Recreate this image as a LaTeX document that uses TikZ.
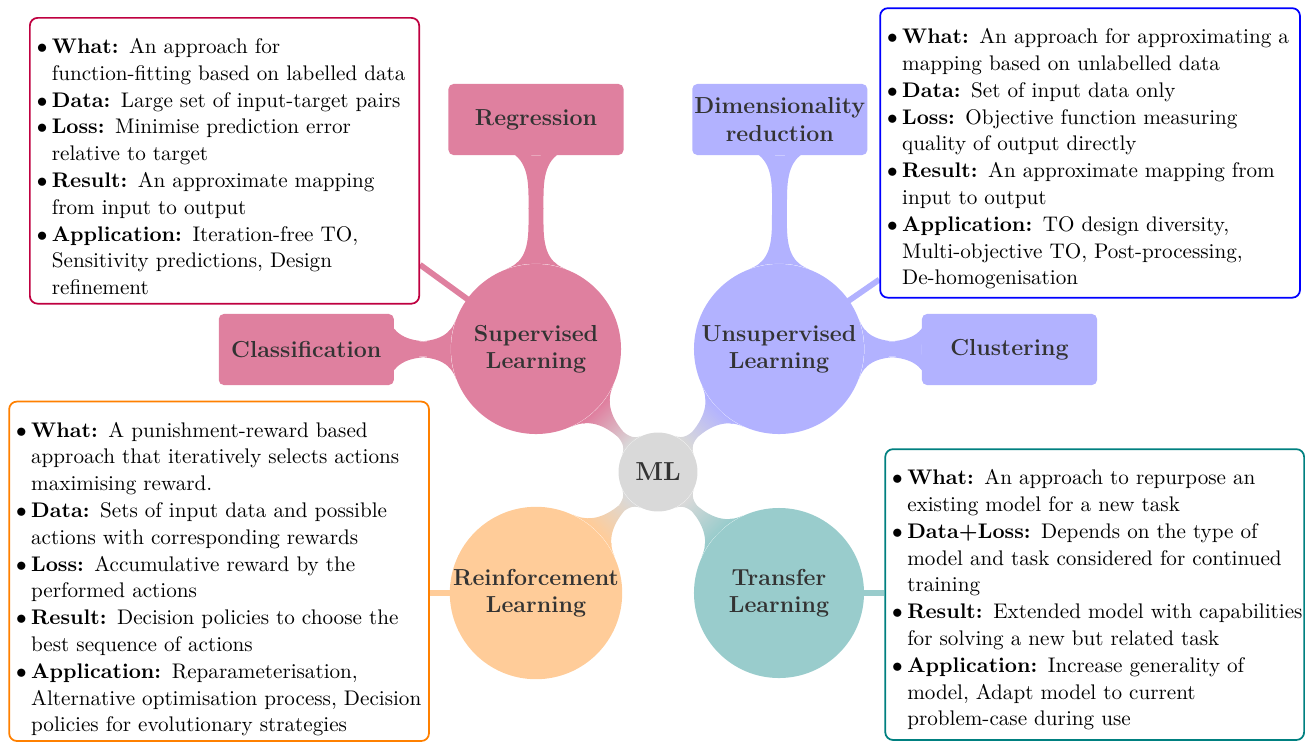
\documentclass[tikz,border=0pt]{standalone}
\usetikzlibrary{mindmap,backgrounds,calc}
\colorlet{mlgray}{gray!30}
\colorlet{pinkc}{purple!50}
\colorlet{lavc}{blue!30}
\colorlet{peachc}{orange!40}
\colorlet{tealc}{teal!40}
\newcommand{\It}[1]{\makebox[7.8pt][l]{$\bullet$}\mbox{#1}}
\newcommand{\Ct}[1]{\hspace*{7.8pt}\mbox{#1}}
\newcommand{\TopS}{\rule{0pt}{18.4pt}}
\newcommand{\BotS}[1]{\rule[-#1]{0pt}{#1}}
\begin{document}
\begin{tikzpicture}[x=0.5181pt,y=-0.5181pt,
  concepttext/.style={text=black!80, font=\fontsize{12}{14.2}\selectfont\bfseries, align=center},
  rootconcept/.style={circle, fill=mlgray, minimum size=40.9pt, inner sep=0pt, concepttext, font=\fontsize{13.5}{15}\selectfont\bfseries},
  lvlone/.style={circle, fill=#1, minimum size=88.1pt, inner sep=0pt, concepttext},
  lvltwo/.style={rectangle, rounded corners=2.6pt, fill=#1, minimum width=90.7pt, minimum height=36.8pt, inner sep=0pt, concepttext},
  infobox/.style={draw=#1, line width=0.9pt, fill=white, rounded corners=4pt, anchor=north west, inner xsep=3.6pt, inner ysep=0pt, align=left, font=\fontsize{10.95}{13.89}\selectfont, text=black},
  tether/.style={line width=3pt, draw=#1}]
\useasboundingbox (0,0) rectangle (1306,741);

% concepts
\node[rootconcept] (ml) at (658,472) {ML};
\node[lvlone=pinkc] (sup) at (536,349) {Supervised\\Learning};
\node[lvlone=lavc] (uns) at (779,349) {Unsupervised\\Learning};
\node[lvlone=peachc] (rl) at (536,593) {Reinforcement\\Learning};
\node[lvlone=tealc] (tl) at (779,593) {Transfer\\Learning};
\node[lvltwo=pinkc] (reg) at (536,119.5) {Regression};
\node[lvltwo=pinkc] (cls) at (306.3,349.5) {Classification};
\node[lvltwo=lavc] (dim) at (779.8,119.5) {Dimensionality\\reduction};
\node[lvltwo=lavc] (clu) at (1009.5,349.5) {Clustering};

% info boxes
\node[infobox=purple, text width=194.5pt] (pbox) at (29,17) {%
\TopS\It{\textbf{What:} An approach for}\\
\Ct{function-fitting based on labelled data}\\
\It{\textbf{Data:} Large set of input-target pairs}\\
\It{\textbf{Loss:} Minimise prediction error}\\
\Ct{relative to target}\\
\It{\textbf{Result:} An approximate mapping}\\
\Ct{from input to output}\\
\It{\textbf{Application:} Iteration-free TO,}\\
\Ct{Sensitivity predictions, Design}\\
\Ct{refinement}\BotS{4.66pt}};

\node[infobox=blue, text width=210.3pt] (bbox) at (879.3,7.3) {%
\TopS\It{\textbf{What:} An approach for approximating a}\\
\Ct{mapping based on unlabelled data}\\
\It{\textbf{Data:} Set of input data only}\\
\It{\textbf{Loss:} Objective function measuring}\\
\Ct{quality of output directly}\\
\It{\textbf{Result:} An approximate mapping from}\\
\Ct{input to output}\\
\It{\textbf{Application:} TO design diversity,}\\
\Ct{Multi-objective TO, Post-processing,}\\
\Ct{De-homogenisation}\BotS{6.58pt}};

\node[infobox=orange, text width=210.3pt] (obox) at (8.3,400.7) {%
\TopS\It{\textbf{What:} A punishment-reward based}\\
\Ct{approach that iteratively selects actions}\\
\Ct{maximising reward.}\\
\It{\textbf{Data:} Sets of input data and possible}\\
\Ct{actions with corresponding rewards}\\
\It{\textbf{Loss:} Accumulative reward by the}\\
\Ct{performed actions}\\
\It{\textbf{Result:} Decision policies to choose the}\\
\Ct{best sequence of actions}\\
\It{\textbf{Application:} Reparameterisation,}\\
\Ct{Alternative optimisation process, Decision}\\
\Ct{policies for evolutionary strategies}\BotS{4.66pt}};

\node[infobox=teal, text width=209.8pt] (tbox) at (884.4,448.3) {%
\TopS\It{\textbf{What:} An approach to repurpose an}\\
\Ct{existing model for a new task}\\
\It{\textbf{Data+Loss:} Depends on the type of}\\
\Ct{model and task considered for continued}\\
\Ct{training}\\
\It{\textbf{Result:} Extended model with capabilities}\\
\Ct{for solving a new but related task}\\
\It{\textbf{Application:} Increase generality of}\\
\Ct{model, Adapt model to current}\\
\Ct{problem-case during use}\BotS{7.25pt}};

\begin{pgfonlayer}{background}
% tethers from concepts to info boxes
\draw[tether=pinkc] (sup.center) -- (pbox.-28.2);
\draw[tether=lavc] (uns.center) -- (bbox.211.8);
\draw[tether=peachc] (rl.center) -- (rl.center -| obox.east);
\draw[tether=tealc] (tl.center) -- (tl.center -| tbox.west);
% connection bars
\path (ml) to[circle connection bar switch color=from (mlgray) to (pinkc)] (sup);
\path (ml) to[circle connection bar switch color=from (mlgray) to (lavc)] (uns);
\path (ml) to[circle connection bar switch color=from (mlgray) to (peachc)] (rl);
\path (ml) to[circle connection bar switch color=from (mlgray) to (tealc)] (tl);
\path (sup) to[circle connection bar switch color=from (pinkc) to (pinkc)] (reg);
\path (sup) to[circle connection bar switch color=from (pinkc) to (pinkc)] (cls);
\path (uns) to[circle connection bar switch color=from (lavc) to (lavc)] (dim);
\path (uns) to[circle connection bar switch color=from (lavc) to (lavc)] (clu);
\end{pgfonlayer}
\end{tikzpicture}
\end{document}
